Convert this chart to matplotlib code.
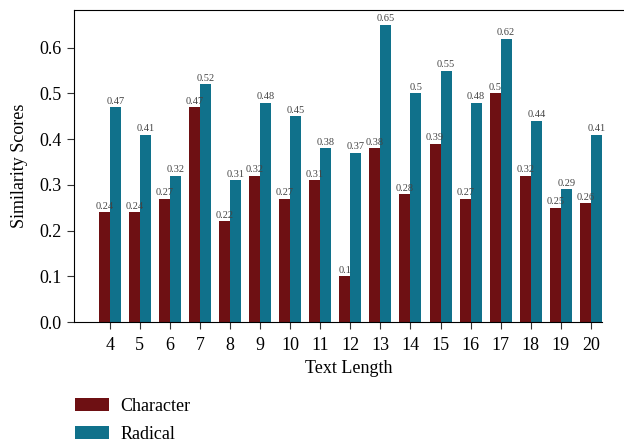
import matplotlib
matplotlib.use("Agg")
import matplotlib.pyplot as plt
import numpy as np

plt.rcParams['font.family'] = ['Liberation Serif', 'DejaVu Serif']

text_length = [4, 5, 6, 7, 8, 9, 10, 11, 12, 13, 14, 15, 16, 17, 18, 19, 20]
character = [0.24, 0.24, 0.27, 0.47, 0.22, 0.32, 0.27, 0.31, 0.1, 0.38,
             0.28, 0.39, 0.27, 0.5, 0.32, 0.25, 0.26]
radical = [0.47, 0.41, 0.32, 0.52, 0.31, 0.48, 0.45, 0.38, 0.37, 0.65,
           0.5, 0.55, 0.48, 0.62, 0.44, 0.29, 0.41]

c_char = '#6e1013'
c_rad = '#10718b'

fig = plt.figure(figsize=(6.24, 4.43), dpi=100)
ax = fig.add_axes([0.118, 0.273, 0.882, 0.704])

x = np.array(text_length)
w = 0.365
b1 = ax.bar(x - w / 2, character, w, color=c_char, label='Character')
b2 = ax.bar(x + w / 2, radical, w, color=c_rad, label='Radical')

for bars, vals in [(b1, character), (b2, radical)]:
    for b, v in zip(bars, vals):
        ax.text(b.get_x() + b.get_width() / 2, v + 0.003, f'{v:g}',
                ha='center', va='bottom', fontsize=7.5, color='#444444')

ax.set_xlim(2.80, 21.1)
ax.set_ylim(0, 0.682)
ax.set_xticks(text_length)
ax.set_yticks([0.0, 0.1, 0.2, 0.3, 0.4, 0.5, 0.6])
ax.set_yticklabels(['0.0', '0.1', '0.2', '0.3', '0.4', '0.5', '0.6'])
ax.tick_params(labelsize=13, length=5, color='#333333')
ax.tick_params(axis='x', pad=6)
ax.spines['right'].set_visible(False)
ax.spines['bottom'].set_bounds(2.80, 20.37)
ax.set_xlabel('Text Length', fontsize=13, labelpad=4)
ax.set_ylabel('Similarity Scores', fontsize=13, labelpad=8)

fig.legend(handles=[b1, b2], loc='upper left', bbox_to_anchor=(0.10, 0.13),
           frameon=False, fontsize=13, handlelength=1.9, handleheight=0.7,
           labelspacing=0.6, handletextpad=0.6, borderpad=0.2)

fig.savefig('out.png', dpi=100)
